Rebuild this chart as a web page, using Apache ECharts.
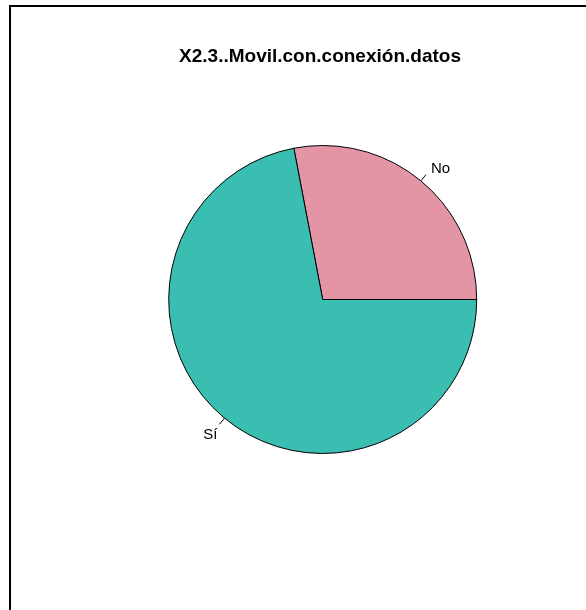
<!DOCTYPE html>
<html>
<head>
<meta charset="utf-8">
<script src="https://cdn.jsdelivr.net/npm/echarts@6/dist/echarts.min.js"></script>
<style>
  html, body { margin: 0; padding: 0; background: #ffffff; }
  #chart { width: 586px; height: 610px; }
</style>
</head>
<body>
<div id="chart"></div>
<script>
// Mobile phone with data connection: answer counts
const titleText = 'X2.3..Movil.con.conexión.datos';
const categories = ['No', 'Sí'];
const counts = [28, 72];
const sliceColors = ['#E495A5', '#39BEB1'];

// label text templates: a blank line above/below nudges each name off its tick
const labelFormats = ['{b}\n ', ' \n{b}'];
const labelLineHeights = [12, 22];
const labelGaps = [5, 2];

const chart = echarts.init(document.getElementById('chart'), null, { renderer: 'canvas' });

const pieData = categories.map((name, i) => ({
  name: name,
  value: counts[i],
  itemStyle: { color: sliceColors[i] },
  label: {
    formatter: labelFormats[i],
    lineHeight: labelLineHeights[i],
    distanceToLabelLine: labelGaps[i]
  }
}));

chart.setOption({
  backgroundColor: '#ffffff',
  animation: false,
  title: {
    text: titleText,
    left: 315,
    top: 42,
    textAlign: 'center',
    textStyle: {
      fontFamily: 'Liberation Sans, Arial, sans-serif',
      fontWeight: 'bold',
      fontSize: 19,
      color: '#000000'
    }
  },
  graphic: [{
    type: 'polyline',
    shape: { points: [[10, 610], [10, 6], [586, 6]] },
    style: { stroke: '#000000', lineWidth: 2, fill: null },
    silent: true
  }],
  series: [{
    type: 'pie',
    center: [322.7, 299.5],
    radius: [0, 154],
    startAngle: 0,
    clockwise: false,
    avoidLabelOverlap: false,
    data: pieData,
    itemStyle: { borderColor: '#000000', borderWidth: 1 },
    emphasis: { disabled: true },
    label: {
      show: true,
      position: 'outside',
      color: '#000000',
      fontFamily: 'Liberation Sans, Arial, sans-serif',
      fontSize: 15
    },
    labelLine: {
      show: true,
      length: 8,
      length2: 0,
      smooth: false,
      lineStyle: { color: '#000000', width: 1 }
    }
  }]
});
</script>
</body>
</html>
